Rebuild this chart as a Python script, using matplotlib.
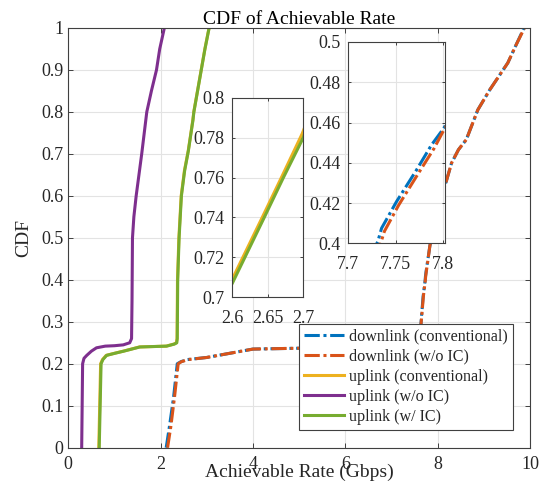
import matplotlib
matplotlib.use("Agg")
import matplotlib.pyplot as plt

plt.rcParams['font.family'] = ['Liberation Serif', 'DejaVu Serif']
plt.rcParams['font.size'] = 13

# downlink (conventional)
dl_conv_x = [2.12, 2.19, 2.28, 2.36, 2.44, 2.58, 3.0, 3.5, 4.0, 5.0, 6.0, 7.0, 7.5, 7.6, 7.63,
             7.655, 7.685, 7.731, 7.735, 7.7507, 7.7717, 7.7874, 7.8003, 7.83, 7.95, 8.08,
             8.19, 8.30, 8.45, 8.62, 8.87, 9.13, 9.52, 9.70, 9.87]
dl_conv_y = [0.0, 0.05, 0.12, 0.2, 0.205, 0.21, 0.215, 0.225, 0.235, 0.237, 0.24, 0.245, 0.25,
             0.265, 0.283, 0.32, 0.36, 0.4008, 0.4075, 0.4207, 0.4364, 0.4488, 0.4571, 0.48,
             0.55, 0.60, 0.636, 0.678, 0.71, 0.734, 0.805, 0.853, 0.917, 0.96, 1.0]

# downlink (w/o IC)
dl_woic_x = [2.15, 2.22, 2.30, 2.38, 2.45, 2.6, 3.0, 3.5, 4.0, 5.0, 6.0, 7.0, 7.5, 7.6, 7.63,
             7.66, 7.69, 7.734, 7.738, 7.753, 7.774, 7.790, 7.799, 7.83, 7.95, 8.08,
             8.19, 8.30, 8.45, 8.62, 8.87, 9.13, 9.52, 9.70, 9.88]
dl_woic_y = [0.0, 0.05, 0.12, 0.2, 0.205, 0.21, 0.215, 0.225, 0.235, 0.237, 0.24, 0.245, 0.25,
             0.265, 0.283, 0.32, 0.36, 0.4, 0.406, 0.419, 0.435, 0.447, 0.455, 0.48,
             0.55, 0.60, 0.636, 0.678, 0.71, 0.734, 0.805, 0.853, 0.917, 0.96, 1.0]

# uplink (conventional)
ul_conv_x = [0.66, 0.68, 0.70, 0.74, 0.82, 1.0, 1.19, 1.54, 2.12, 2.29, 2.34, 2.355, 2.365,
             2.395, 2.445, 2.515, 2.5985, 2.6435, 2.6705, 2.6985, 2.718, 2.798, 2.878, 2.958,
             3.048]
ul_conv_y = [0.0, 0.1, 0.2, 0.21, 0.22, 0.225, 0.23, 0.24, 0.242, 0.247, 0.25, 0.26, 0.4,
             0.5, 0.6, 0.66, 0.708, 0.741, 0.761, 0.782, 0.8, 0.85, 0.9, 0.95, 1.0]

# uplink (w/o IC)
ul_woic_x = [0.29, 0.30, 0.31, 0.34, 0.40, 0.50, 0.61, 0.80, 1.00, 1.19, 1.33, 1.37, 1.38,
             1.39, 1.42, 1.47, 1.53, 1.59, 1.70, 1.80, 1.91, 1.98, 2.08]
ul_woic_y = [0.0, 0.1, 0.2, 0.213, 0.22, 0.23, 0.238, 0.242, 0.243, 0.245, 0.25, 0.26, 0.35,
             0.5, 0.55, 0.6, 0.65, 0.7, 0.8, 0.85, 0.9, 0.95, 1.0]

# uplink (w/ IC)
ul_wic_x = [0.67, 0.69, 0.71, 0.75, 0.83, 1.01, 1.2, 1.55, 2.13, 2.30, 2.35, 2.36, 2.37, 2.40,
            2.45, 2.52, 2.60, 2.645, 2.672, 2.70, 2.72, 2.80, 2.88, 2.96, 3.05]
ul_wic_y = [0.0, 0.1, 0.2, 0.21, 0.22, 0.225, 0.23, 0.24, 0.242, 0.247, 0.25, 0.26, 0.4, 0.5,
            0.6, 0.66, 0.707, 0.74, 0.76, 0.78, 0.8, 0.85, 0.9, 0.95, 1.0]

labels = ["downlink (conventional)", "downlink (w/o IC)", "uplink (conventional)",
          "uplink (w/o IC)", "uplink (w/ IC)"]
colors = ["#0072BD", "#D95319", "#EDB120", "#7E2F8E", "#77AC30"]
dashdot = (0, (5, 1.2, 1, 1.2))
styles = [dashdot, dashdot, "-", "-", "-"]
series = [(dl_conv_x, dl_conv_y), (dl_woic_x, dl_woic_y), (ul_conv_x, ul_conv_y),
          (ul_woic_x, ul_woic_y), (ul_wic_x, ul_wic_y)]

TXT = "#262626"
GRID = "#e3e3e3"


def style_axes(ax, ticklen, xpad, ypad):
    ax.grid(True, color=GRID, linewidth=0.8)
    ax.set_axisbelow(True)
    ax.tick_params(direction="in", top=True, right=True, length=ticklen, width=0.6,
                   colors=TXT, labelsize=13)
    ax.tick_params(axis="x", pad=xpad)
    ax.tick_params(axis="y", pad=ypad)
    for s in ax.spines.values():
        s.set_color("#404040")
        s.set_linewidth(0.8)


W, H = 539, 490
fig = plt.figure(figsize=(W / 100, H / 100), dpi=100)
ax = fig.add_axes([68.3 / W, (H - 447.7) / H, 461.7 / W, 419.7 / H])

for (x, y), c, ls, lab in zip(series, colors, styles, labels):
    ax.plot(x, y, color=c, linestyle=ls, linewidth=2.2, label=lab)

ax.set_xlim(0, 10)
ax.set_ylim(0, 1)
ax.set_xticks([0, 2, 4, 6, 8, 10])
ax.set_yticks([i / 10 for i in range(11)])
ax.set_yticklabels(["0", "0.1", "0.2", "0.3", "0.4", "0.5", "0.6", "0.7", "0.8", "0.9", "1"])
style_axes(ax, 3.5, 6, 3.5)
ax.set_title("CDF of Achievable Rate", fontsize=14, color="black", pad=3)
ax.set_xlabel("Achievable Rate (Gbps)", fontsize=14, color=TXT, labelpad=-7)
ax.set_ylabel("CDF", fontsize=14, color=TXT, labelpad=6)

leg = ax.legend(loc="lower left", bbox_to_anchor=(299 / W, (H - 429.5) / H),
                bbox_transform=fig.transFigure, borderaxespad=0, frameon=True,
                fancybox=False, framealpha=1, edgecolor="#404040", fontsize=11.6,
                handlelength=2.5, handletextpad=0.3, labelspacing=0.25, borderpad=0.3)
leg.get_frame().set_linewidth(0.8)
for t in leg.get_texts():
    t.set_color(TXT)

# inset around uplink curves
ax1 = fig.add_axes([232.3 / W, (H - 297.3) / H, 71 / W, 199.6 / H])
for (x, y), c, ls in zip(series, colors, styles):
    ax1.plot(x, y, color=c, linestyle=ls, linewidth=2.2)
ax1.set_xlim(2.6, 2.7)
ax1.set_ylim(0.7, 0.8)
ax1.set_xticks([2.6, 2.65, 2.7])
ax1.set_xticklabels(["2.6", "2.65", "2.7"])
ax1.set_yticks([0.7, 0.72, 0.74, 0.76, 0.78, 0.8])
ax1.set_yticklabels(["0.7", "0.72", "0.74", "0.76", "0.78", "0.8"])
style_axes(ax1, 2.5, 9, 5.5)

# inset around downlink curves
ax2 = fig.add_axes([348.3 / W, (H - 243.3) / H, 97 / W, 201.3 / H])
for (x, y), c, ls in zip(series, colors, styles):
    ax2.plot(x, y, color=c, linestyle=ls, linewidth=2.2)
ax2.set_xlim(7.7, 7.802)
ax2.set_ylim(0.4, 0.5)
ax2.set_xticks([7.7, 7.75, 7.8])
ax2.set_xticklabels(["7.7", "7.75", "7.8"])
ax2.set_yticks([0.4, 0.42, 0.44, 0.46, 0.48, 0.5])
ax2.set_yticklabels(["0.4", "0.42", "0.44", "0.46", "0.48", "0.5"])
style_axes(ax2, 2.5, 9, 5.5)

fig.savefig("out.png", dpi=100, facecolor="white")
